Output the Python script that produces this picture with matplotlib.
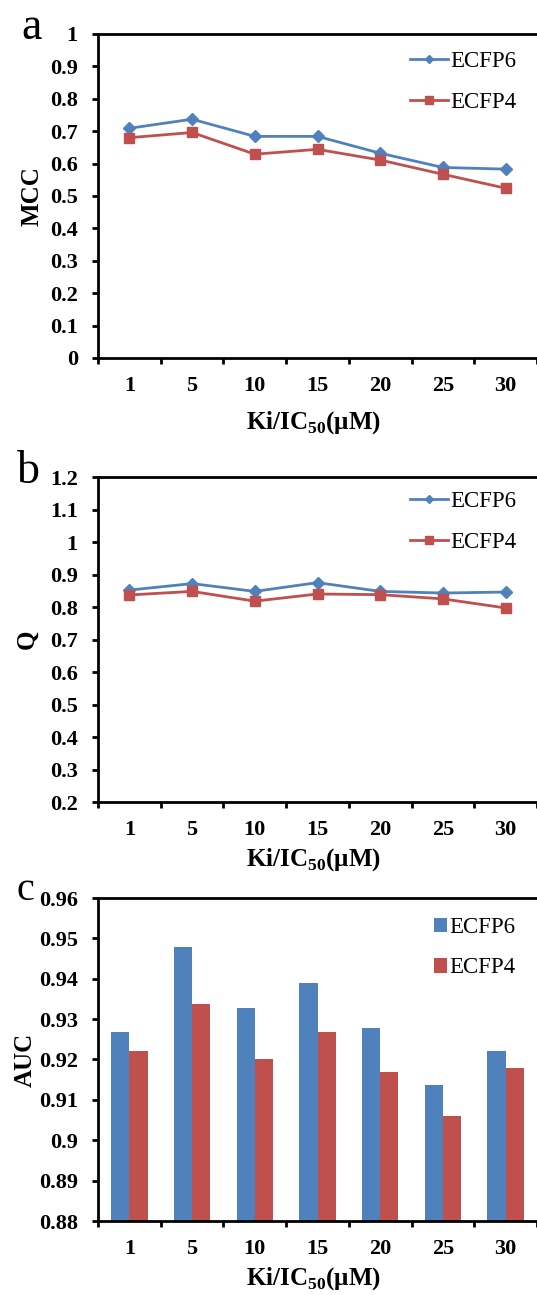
import matplotlib
matplotlib.use("Agg")
import matplotlib.pyplot as plt
import numpy as np

categories = ["1", "5", "10", "15", "20", "25", "30"]
series_names = ["ECFP6", "ECFP4"]
mcc_ecfp6 = [0.709, 0.737, 0.684, 0.684, 0.632, 0.588, 0.583]
mcc_ecfp4 = [0.680, 0.696, 0.629, 0.644, 0.611, 0.567, 0.524]
q_ecfp6 = [0.852, 0.872, 0.848, 0.875, 0.848, 0.843, 0.846]
q_ecfp4 = [0.837, 0.848, 0.818, 0.840, 0.838, 0.825, 0.797]
auc_ecfp6 = [0.9268, 0.9479, 0.9327, 0.9389, 0.9278, 0.9136, 0.9220]
auc_ecfp4 = [0.9220, 0.9337, 0.9200, 0.9268, 0.9170, 0.9060, 0.9178]

BLUE = "#4F81BD"
RED = "#C0504D"
SERIF = ["Liberation Serif", "DejaVu Serif"]
plt.rcParams["mathtext.fontset"] = "custom"
plt.rcParams["mathtext.rm"] = "Liberation Serif:bold"
plt.rcParams["mathtext.bf"] = "Liberation Serif:bold"

W, H = 537, 1295
LEFT = 98
STEP = 63.2
fig = plt.figure(figsize=(W / 100, H / 100), dpi=100)
x = np.arange(len(categories))


def frac_axes(top, bottom):
    return fig.add_axes([LEFT / W, 1 - bottom / H, 1 - LEFT / W, (bottom - top) / H])


def style(ax, ylim, yticks, ylabels, ylabel, ylab_x, xlab_base):
    ax.set_xlim(-0.5, -0.5 + (W - LEFT) / STEP)
    ax.set_ylim(*ylim)
    ax.set_xticks(np.arange(-0.5, 7, 1.0))
    ax.set_xticklabels([])
    ax.set_xticks(x, minor=True)
    ax.set_xticklabels(categories, minor=True, fontfamily=SERIF, fontweight="bold", fontsize=16)
    ax.tick_params(axis="x", which="major", direction="out", length=4, width=2)
    ax.tick_params(axis="x", which="minor", length=0, pad=13)
    ax.set_yticks(yticks)
    ax.set_yticklabels(ylabels, fontfamily=SERIF, fontweight="bold", fontsize=16)
    ax.tick_params(axis="y", direction="out", length=4, width=2, pad=10.5)
    for s in ["left", "bottom", "top"]:
        ax.spines[s].set_linewidth(2)
    ax.spines["right"].set_visible(False)
    pos = ax.get_position()
    fig.text(ylab_x / W, (pos.y0 + pos.y1) / 2, ylabel, rotation=90, ha="center", va="center",
             fontfamily=SERIF, fontweight="bold", fontsize=18)
    fig.text(313 / W, 1 - xlab_base / H, r"Ki/IC$_{\mathbf{50}}$(μM)", ha="center", va="baseline",
             fontfamily=SERIF, fontweight="bold", fontsize=18)


def add_legend(ax, x0, ytop, **kw):
    ax.legend(loc="upper left", bbox_to_anchor=(x0 / W, 1 - ytop / H), bbox_transform=fig.transFigure,
              frameon=False, prop={"family": SERIF, "size": 16.5}, handletextpad=0.1,
              labelspacing=0.85, borderpad=0, borderaxespad=0, **kw)


# Panel a: MCC
ax1 = frac_axes(34, 358)
ax1.plot(x, mcc_ecfp6, color=BLUE, lw=2, marker="D", ms=6, label=series_names[0])
ax1.plot(x, mcc_ecfp4, color=RED, lw=2, marker="s", ms=7.5, label=series_names[1])
yt = np.round(np.arange(0, 1.01, 0.1), 1)
style(ax1, (0, 1), yt, [("%g" % v) for v in yt], "MCC", 32, 429)
add_legend(ax1, 410, 51, handlelength=1.65, markerscale=0.75)

# Panel b: Q
ax2 = frac_axes(477, 802)
ax2.plot(x, q_ecfp6, color=BLUE, lw=2, marker="D", ms=6, label=series_names[0])
ax2.plot(x, q_ecfp4, color=RED, lw=2, marker="s", ms=7.5, label=series_names[1])
qt = np.round(np.arange(0.2, 1.21, 0.1), 1)
style(ax2, (0.2, 1.2), qt, [("%g" % v) for v in qt], "Q", 27, 866)
add_legend(ax2, 410, 491, handlelength=1.65, markerscale=0.75)

# Panel c: AUC
ax3 = frac_axes(898, 1221)
bw = 0.29
ax3.bar(x - bw / 2, auc_ecfp6, width=bw, color=BLUE, label=series_names[0])
ax3.bar(x + bw / 2, auc_ecfp4, width=bw, color=RED, label=series_names[1])
at = np.round(np.arange(0.88, 0.961, 0.01), 2)
style(ax3, (0.88, 0.96), at, [("%g" % v) if abs(v - 0.9) < 1e-9 else ("%.2f" % v) for v in at],
      "AUC", 25, 1285)
add_legend(ax3, 434, 917, handlelength=0.55, handleheight=0.6)

# Panel letters
fig.text(21 / W, 1 - 39 / H, "a", fontfamily=SERIF, fontsize=33, ha="left", va="baseline")
fig.text(17 / W, 1 - 483 / H, "b", fontfamily=SERIF, fontsize=33, ha="left", va="baseline")
fig.text(16 / W, 1 - 900 / H, "c", fontfamily=SERIF, fontsize=29, ha="left", va="baseline")

fig.savefig("out.png", dpi=100)
